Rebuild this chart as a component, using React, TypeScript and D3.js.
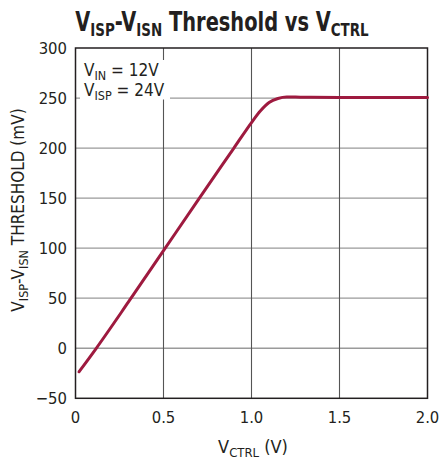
import React from "react";
import * as d3 from "d3";

// curve (V, mV)
const vctrl = [0.02, 0.118, 0.3, 0.5, 0.7, 0.9, 1.0, 1.05, 1.1, 1.15, 1.2, 1.25, 1.3, 1.5, 1.75, 2.0];
const threshold = [-23.5, 0, 46, 97.5, 149, 200, 225.5, 237, 245.5, 249.5, 251, 251, 250.8, 250.6, 250.6, 250.6];
const xTicks = [0, 0.5, 1.0, 1.5, 2.0];
const xTickLabels = ["0", "0.5", "1.0", "1.5", "2.0"];
const yTicks = [-50, 0, 50, 100, 150, 200, 250, 300];
const yTickLabels = ["\u221250", "0", "50", "100", "150", "200", "250", "300"];

const font = "'DejaVu Sans Condensed', 'Liberation Sans Narrow', sans-serif";

const App = () => {
  const W = 441;
  const H = 462;
  const margin = { top: 48, right: 13.5, bottom: 63.7, left: 75.5 };

  const x = d3.scaleLinear().domain([0, 2]).range([margin.left, W - margin.right]);
  const y = d3.scaleLinear().domain([-50, 300]).range([H - margin.bottom, margin.top]);

  const pts: [number, number][] = vctrl.map((v, i) => [v, threshold[i]]);
  const line = d3.line<[number, number]>()
    .x(d => x(d[0]))
    .y(d => y(d[1]))
    .curve(d3.curveMonotoneX);

  const x0 = x(0), x1 = x(2), y0 = y(-50), y1 = y(300);

  return (
    <svg width={W} height={H} style={{ position: "absolute", left: 0, top: 0, background: "#fff" }} fontFamily={font}>
      {/* title, squeezed to look like a condensed face */}
      <g transform="translate(222,31) scale(0.83,1)">
        <text x={0} y={0} textAnchor="middle" fontSize={26} fontWeight="bold" fill="#231f20">
          V<tspan fontSize={18} dy={5}>ISP</tspan>
          <tspan dy={-5}>-V</tspan><tspan fontSize={18} dy={5}>ISN</tspan>
          <tspan dy={-5}> Threshold vs V</tspan><tspan fontSize={18} dy={5}>CTRL</tspan>
        </text>
      </g>

      {/* grid */}
      {yTicks.slice(1, -1).map(t => (
        <line key={"h" + t} x1={x0} x2={x1} y1={y(t)} y2={y(t)} stroke="#9a9a9a" strokeWidth={1.3} />
      ))}
      {xTicks.slice(1, -1).map(t => (
        <line key={"v" + t} x1={x(t)} x2={x(t)} y1={y0} y2={y1} stroke="#555" strokeWidth={1.1} />
      ))}

      {/* legend box covers grid */}
      <rect x={80} y={60} width={90} height={39.5} fill="#fff" />
      <g fontSize={17} fill="#231f20">
        <text x={84} y={76}>V<tspan fontSize={12.5} dy={4}>IN</tspan><tspan dy={-4}> = 12V</tspan></text>
        <text x={84} y={96}>V<tspan fontSize={12.5} dy={4}>ISP</tspan><tspan dy={-4}> = 24V</tspan></text>
      </g>

      {/* frame */}
      <rect x={x0} y={y1} width={x1 - x0} height={y0 - y1} fill="none" stroke="#231f20" strokeWidth={1.5} />

      {/* curve */}
      <path d={line(pts) || ""} fill="none" stroke="#9e1a3f" strokeWidth={3} strokeLinecap="round" />

      {/* y tick labels */}
      <g fontSize={16.5} fill="#231f20" textAnchor="end">
        {yTicks.map((t, i) => (
          <text key={t} x={67} y={y(t) + 6}>{yTickLabels[i]}</text>
        ))}
      </g>
      {/* x tick labels */}
      <g fontSize={16.5} fill="#231f20" textAnchor="middle">
        {xTicks.map((t, i) => (
          <text key={t} x={x(t)} y={423}>{xTickLabels[i]}</text>
        ))}
      </g>

      {/* axis titles */}
      <text x={253} y={453} textAnchor="middle" fontSize={18} fill="#231f20">
        V<tspan fontSize={13} dy={4}>CTRL</tspan><tspan dy={-4}> (V)</tspan>
      </text>
      <text transform="translate(24,210) rotate(-90)" textAnchor="middle" fontSize={17} fill="#231f20">
        V<tspan fontSize={12.5} dy={4}>ISP</tspan><tspan dy={-4}>-V</tspan><tspan fontSize={12.5} dy={4}>ISN</tspan><tspan dy={-4}> THRESHOLD (mV)</tspan>
      </text>
    </svg>
  );
};

export default App;
